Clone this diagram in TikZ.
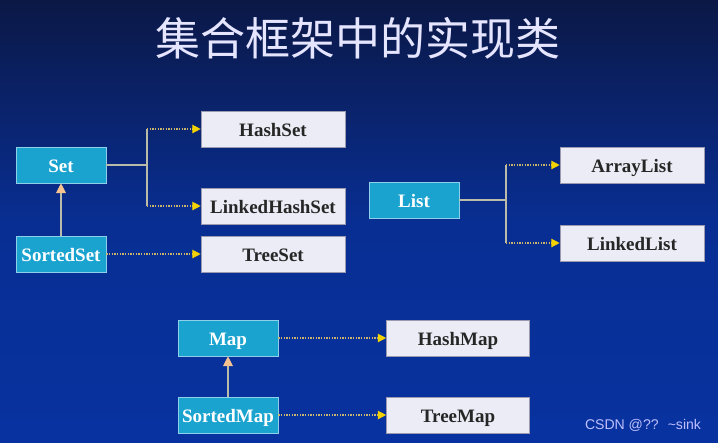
\documentclass[tikz,border=0pt]{standalone}
\usepackage{fontspec}
\setmainfont{Liberation Serif}
\newfontfamily\cjk{Noto Sans CJK SC}
\newfontfamily\wmfont{Liberation Sans}
\usetikzlibrary{arrows.meta,positioning,calc}

\definecolor{bgtop}{HTML}{0B1846}
\definecolor{bgbot}{HTML}{0832A0}
\definecolor{ifacefill}{HTML}{1BA3D0}
\definecolor{ifaceline}{HTML}{8ED0EA}
\definecolor{implfill}{HTML}{ECECF6}
\definecolor{implline}{HTML}{9A9AB0}
\definecolor{dotline}{HTML}{C8B46A}
\definecolor{tipyellow}{HTML}{F4D200}
\definecolor{linkline}{HTML}{B8BCA8}
\definecolor{peach}{HTML}{F6C390}

\begin{document}
\begin{tikzpicture}[
    x=0.025cm, y=-0.025cm,
    iface/.style={rectangle, draw=ifaceline, fill=ifacefill, text=white, font=\fontsize{13.5}{15}\selectfont\bfseries, minimum width=2.25cm, minimum height=0.9cm, text height=10.2pt, text depth=0pt, inner sep=1pt},
    impl/.style={rectangle, draw=implline, fill=implfill, text=black!85, font=\fontsize{13.5}{15}\selectfont\bfseries, minimum width=3.6cm, minimum height=0.9cm, text height=10.2pt, text depth=0pt, inner sep=1pt},
    dotarrow/.style={dotline, densely dotted, line width=0.9pt, -{Triangle[length=6pt, width=6pt, fill=tipyellow, color=tipyellow]}},
    link/.style={linkline, line width=0.8pt},
    inherit/.style={linkline, line width=0.8pt, -{Triangle[length=7pt, width=7pt, fill=peach, color=peach]}}
]
    % background and title
    \shade[top color=bgtop, bottom color=bgbot, middle color=bgbot!85!bgtop, shading angle=0] (0,0) rectangle (718,442);
    \node[text=white!90!blue, font=\cjk\fontsize{32}{36}\selectfont] (title) at (358,38) {集合框架中的实现类};

    % Set family
    \node[iface] (set) at (61,165) {Set};
    \node[iface] (sortedset) at (61,254) {SortedSet};
    \node[impl] (hashset) at (273,129) {HashSet};
    \node[impl] (linkedhashset) at (273,206) {LinkedHashSet};
    \node[impl] (treeset) at (273,254) {TreeSet};
    \coordinate (jset) at (147,165);

    % List family
    \node[iface] (list) at (414,200) {List};
    \node[impl] (arraylist) at (632,165) {ArrayList};
    \node[impl] (linkedlist) at (632,243) {LinkedList};
    \coordinate (jlist) at (506,200);

    % Map family
    \node[iface, minimum width=2.5cm] (map) at (228,338) {Map};
    \node[iface, minimum width=2.5cm] (sortedmap) at (228,415) {SortedMap};
    \node[impl, minimum width=3.575cm] (hashmap) at (458,338) {HashMap};
    \node[impl, minimum width=3.575cm] (treemap) at (458,415) {TreeMap};

    \draw[link] (set) -- (jset);
    \draw[link] (jset |- hashset.west) -- (jset |- linkedhashset.west);
    \draw[dotarrow] (jset |- hashset.west) -- (hashset);
    \draw[dotarrow] (jset |- linkedhashset.west) -- (linkedhashset);
    \draw[dotarrow] (sortedset) -- (treeset);
    \draw[inherit] (sortedset) -- (set);

    \draw[link] (list) -- (jlist);
    \draw[link] (jlist |- arraylist.west) -- (jlist |- linkedlist.west);
    \draw[dotarrow] (jlist |- arraylist.west) -- (arraylist);
    \draw[dotarrow] (jlist |- linkedlist.west) -- (linkedlist);

    \draw[dotarrow] (map) -- (hashmap);
    \draw[dotarrow] (sortedmap) -- (treemap);
    \draw[inherit] (sortedmap) -- (map);

    % watermark
    \node[text=white!75!blue, font=\wmfont\fontsize{10}{12}\selectfont] (mark) at (643,425) {CSDN @?? \ \textasciitilde sink};
\end{tikzpicture}
\end{document}
